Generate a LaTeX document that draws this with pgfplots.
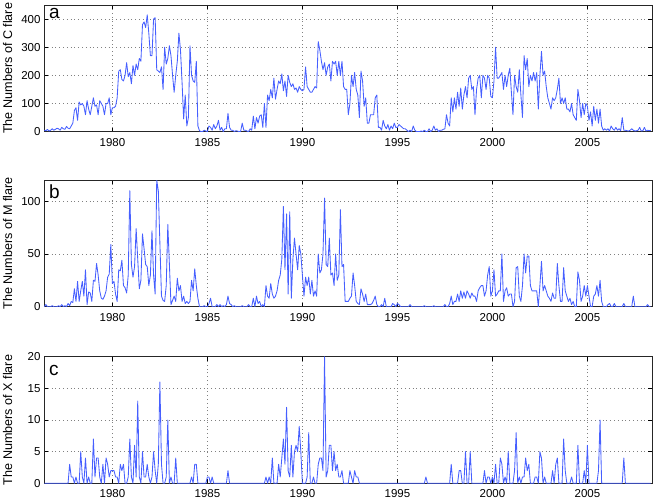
\documentclass[border=0pt]{standalone}
\usepackage{fontspec}
\setmainfont{Liberation Sans}
\usepackage{pgfplots}
\usepackage{pgfplotstable}
\pgfplotsset{compat=1.18}
\definecolor{lineblue}{RGB}{70,95,255}

% monthly values, June 1976 ... May 2008
\pgfplotstableread[header=false,row sep=\\]{
5\\3\\8\\2\\5\\10\\5\\
8\\12\\10\\5\\15\\10\\8\\18\\12\\10\\20\\30\\
75\\85\\40\\105\\95\\100\\90\\60\\110\\80\\60\\90\\
120\\90\\95\\60\\110\\100\\90\\60\\100\\100\\120\\60\\
85\\85\\90\\120\\215\\220\\185\\180\\200\\245\\195\\210\\
170\\235\\200\\240\\220\\260\\250\\380\\390\\370\\415\\350\\
270\\270\\400\\405\\220\\215\\210\\230\\150\\300\\240\\260\\
305\\270\\200\\140\\200\\250\\350\\290\\175\\45\\130\\20\\
50\\305\\200\\180\\175\\250\\20\\3\\0\\0\\5\\2\\
0\\20\\15\\5\\25\\10\\20\\40\\5\\15\\0\\10\\
10\\65\\15\\5\\5\\0\\3\\2\\0\\1\\30\\5\\
5\\2\\0\\10\\5\\55\\10\\50\\30\\55\\60\\15\\
100\\15\\130\\110\\150\\120\\190\\115\\150\\180\\170\\205\\
145\\180\\125\\200\\175\\160\\170\\150\\155\\140\\160\\150\\
145\\150\\230\\160\\150\\140\\140\\150\\160\\155\\320\\290\\
250\\220\\245\\200\\230\\240\\180\\250\\240\\250\\200\\250\\
200\\250\\160\\150\\150\\60\\100\\200\\160\\210\\150\\130\\
50\\215\\180\\90\\120\\30\\30\\60\\60\\60\\120\\130\\
15\\15\\5\\40\\20\\10\\25\\5\\20\\10\\30\\15\\
15\\25\\20\\15\\10\\10\\5\\0\\5\\0\\20\\5\\
0\\0\\0\\2\\0\\5\\0\\0\\10\\0\\5\\20\\
5\\10\\0\\5\\5\\8\\10\\60\\30\\20\\120\\70\\
120\\80\\140\\90\\155\\80\\130\\160\\120\\190\\200\\150\\
160\\60\\150\\190\\200\\120\\200\\190\\150\\200\\190\\125\\
120\\180\\300\\190\\190\\200\\210\\150\\200\\160\\200\\225\\
140\\60\\200\\160\\140\\220\\130\\50\\270\\220\\260\\160\\
200\\180\\210\\180\\210\\80\\200\\285\\200\\215\\160\\120\\
100\\80\\120\\110\\120\\150\\190\\100\\120\\100\\120\\80\\
80\\70\\100\\60\\50\\40\\150\\110\\50\\100\\60\\100\\
90\\40\\70\\20\\90\\40\\80\\30\\80\\20\\5\\10\\
5\\10\\2\\20\\10\\5\\15\\5\\10\\3\\50\\5\\
5\\3\\2\\5\\10\\5\\2\\3\\5\\15\\2\\3\\
15\\2\\5\\3\\5\\
}\Cdata

\pgfplotstableread[header=false,row sep=\\]{
0\\2\\0\\0\\0\\1\\0\\
0\\0\\1\\0\\2\\0\\1\\0\\3\\1\\5\\4\\
17\\5\\24\\5\\15\\24\\10\\35\\2\\14\\13\\5\\
25\\24\\41\\30\\15\\8\\7\\10\\15\\28\\31\\59\\
22\\24\\12\\5\\35\\34\\44\\20\\18\\13\\30\\110\\
40\\28\\38\\74\\45\\17\\25\\69\\55\\40\\38\\20\\
30\\72\\30\\12\\120\\110\\60\\10\\6\\5\\20\\78\\
40\\2\\6\\10\\5\\27\\15\\20\\5\\10\\3\\5\\
3\\5\\25\\15\\36\\20\\8\\0\\0\\0\\1\\0\\
0\\3\\8\\0\\0\\0\\2\\0\\2\\0\\1\\0\\
2\\10\\3\\2\\0\\1\\0\\0\\0\\0\\1\\0\\
0\\0\\2\\0\\0\\8\\0\\10\\3\\5\\0\\2\\
0\\20\\10\\8\\22\\12\\8\\10\\15\\25\\30\\45\\
95\\35\\88\\12\\90\\8\\45\\65\\50\\35\\58\\50\\
30\\10\\28\\20\\28\\12\\25\\10\\15\\10\\50\\32\\
35\\50\\103\\40\\38\\65\\30\\32\\20\\50\\25\\30\\
92\\38\\40\\5\\5\\5\\8\\10\\32\\20\\5\\3\\
2\\17\\12\\5\\12\\2\\2\\2\\3\\6\\10\\2\\
0\\0\\2\\0\\8\\0\\0\\0\\0\\3\\2\\0\\
3\\2\\0\\0\\0\\0\\0\\0\\2\\0\\0\\0\\
0\\0\\0\\0\\0\\1\\0\\0\\0\\0\\0\\1\\
0\\0\\0\\0\\0\\0\\2\\0\\0\\3\\10\\2\\
5\\5\\12\\5\\15\\8\\14\\8\\15\\12\\8\\13\\
10\\10\\5\\15\\18\\20\\20\\10\\15\\30\\38\\10\\
15\\35\\10\\12\\15\\15\\50\\5\\15\\18\\10\\12\\
12\\0\\5\\37\\38\\10\\5\\20\\50\\32\\48\\48\\
20\\15\\15\\15\\15\\0\\20\\43\\15\\20\\15\\10\\
8\\5\\13\\8\\8\\41\\20\\5\\5\\37\\15\\10\\
5\\8\\2\\5\\0\\0\\33\\25\\5\\10\\20\\10\\
20\\10\\0\\0\\10\\12\\20\\10\\25\\5\\0\\0\\
0\\2\\3\\0\\0\\3\\0\\0\\0\\0\\0\\3\\
0\\0\\0\\0\\0\\10\\0\\0\\0\\0\\0\\0\\
0\\0\\2\\0\\0\\
}\Mdata

\pgfplotstableread[header=false,row sep=\\]{
0\\0\\0\\0\\0\\0\\0\\
0\\0\\0\\0\\0\\0\\0\\0\\0\\3\\1\\1\\
0\\1\\0\\0\\5\\1\\0\\4\\0\\1\\0\\0\\
7\\1\\4\\4\\1\\0\\3\\0\\4\\3\\1\\2\\
2\\2\\1\\1\\0\\3\\2\\3\\0\\0\\1\\7\\
1\\0\\6\\1\\13\\1\\0\\5\\1\\1\\3\\1\\
0\\1\\5\\2\\0\\3\\16\\3\\0\\0\\1\\10\\
0\\1\\0\\0\\4\\0\\0\\0\\0\\0\\0\\0\\
0\\0\\1\\0\\3\\3\\0\\0\\0\\0\\0\\0\\
1\\1\\0\\1\\0\\0\\0\\0\\0\\0\\0\\0\\
0\\2\\0\\0\\0\\0\\0\\0\\0\\0\\0\\0\\
0\\0\\0\\0\\0\\0\\0\\0\\0\\0\\0\\0\\
0\\1\\0\\1\\0\\4\\0\\0\\0\\3\\1\\4\\
7\\3\\12\\2\\1\\6\\1\\5\\6\\5\\9\\5\\
0\\0\\0\\1\\8\\0\\0\\1\\0\\0\\3\\4\\
4\\2\\20\\1\\2\\6\\6\\2\\5\\2\\3\\1\\
1\\2\\0\\0\\0\\0\\2\\1\\0\\2\\1\\1\\
0\\0\\0\\0\\0\\0\\0\\0\\0\\0\\0\\0\\
0\\0\\0\\0\\0\\0\\0\\0\\0\\0\\0\\0\\
0\\0\\0\\0\\0\\0\\0\\0\\0\\0\\0\\0\\
0\\0\\0\\0\\0\\0\\1\\0\\0\\0\\0\\0\\
0\\0\\0\\0\\0\\0\\0\\0\\0\\0\\3\\0\\
0\\0\\0\\2\\2\\0\\0\\5\\0\\0\\5\\0\\
0\\0\\0\\0\\0\\0\\0\\2\\0\\1\\1\\0\\
1\\0\\3\\0\\0\\4\\3\\0\\1\\0\\5\\0\\
0\\0\\2\\8\\0\\1\\0\\1\\1\\4\\2\\3\\
0\\0\\0\\1\\1\\0\\5\\4\\0\\1\\0\\0\\
0\\0\\2\\0\\3\\4\\0\\0\\0\\7\\2\\0\\
0\\0\\1\\0\\0\\0\\6\\0\\0\\0\\2\\0\\
6\\0\\0\\0\\0\\0\\0\\2\\10\\0\\0\\0\\
0\\0\\0\\0\\0\\0\\0\\0\\0\\0\\0\\4\\
0\\0\\0\\0\\0\\0\\0\\0\\0\\0\\0\\0\\
0\\0\\0\\0\\0\\
}\Xdata

\pgfplotsset{
  panel/.style={
    scale only axis, width=608pt, height=126.6pt,
    xmin=1976.4, xmax=2008.4, ymin=0,
    xtick={1980,1985,...,2005},
    grid=major,
    major grid style={black!50, line width=0.5pt, dash pattern=on 0.6pt off 3.2pt},
    tick align=inside, xtick pos=both, ytick pos=both,
    xticklabel pos=lower, yticklabel pos=left,
    major tick length=4pt,
    tick style={black, line width=0.5pt},
    axis line style={black!85, line width=0.6pt},
    /pgf/number format/assume math mode=true,
    /pgf/number format/1000 sep={},
    tick label style={font=\fontsize{11.5}{13}\selectfont},
    xticklabel style={yshift=-3pt},
    ylabel style={at={(axis description cs:-0.0518,0.5)}, anchor=south, rotate=0, inner sep=0pt, font=\fontsize{12.6}{14}\selectfont},
    anchor=south west,
  },
  dataline/.style={lineblue, line width=0.85pt, mark=none, line join=round},
}

\begin{document}
\begin{tikzpicture}
\path[use as bounding box] (0,0) rectangle (654pt,501pt);

\begin{axis}[panel, at={(44pt,369.4pt)}, ymax=450, ytick={0,100,...,400},
  ylabel={The Numbers of C flare}]
\addplot[dataline] table[x expr=1976.4167+\coordindex/12, y index=0] {\Cdata};
\node[anchor=base west, inner sep=0pt, font=\fontsize{19}{22}\selectfont] at (rel axis cs:0.008,0.892) {a};
\end{axis}

\begin{axis}[panel, at={(44pt,194.3pt)}, ymax=120, ytick={0,50,100},
  ylabel={The Numbers of M flare}]
\addplot[dataline] table[x expr=1976.4167+\coordindex/12, y index=0] {\Mdata};
\node[anchor=base west, inner sep=0pt, font=\fontsize{19}{22}\selectfont] at (rel axis cs:0.008,0.852) {b};
\end{axis}

\begin{axis}[panel, at={(44pt,17.7pt)}, ymax=20, ytick={0,5,...,20},
  ylabel={The Numbers of X flare}]
\addplot[dataline] table[x expr=1976.4167+\coordindex/12, y index=0] {\Xdata};
\node[anchor=base west, inner sep=0pt, font=\fontsize{19}{22}\selectfont] at (rel axis cs:0.008,0.85) {c};
\end{axis}
\end{tikzpicture}
\end{document}
